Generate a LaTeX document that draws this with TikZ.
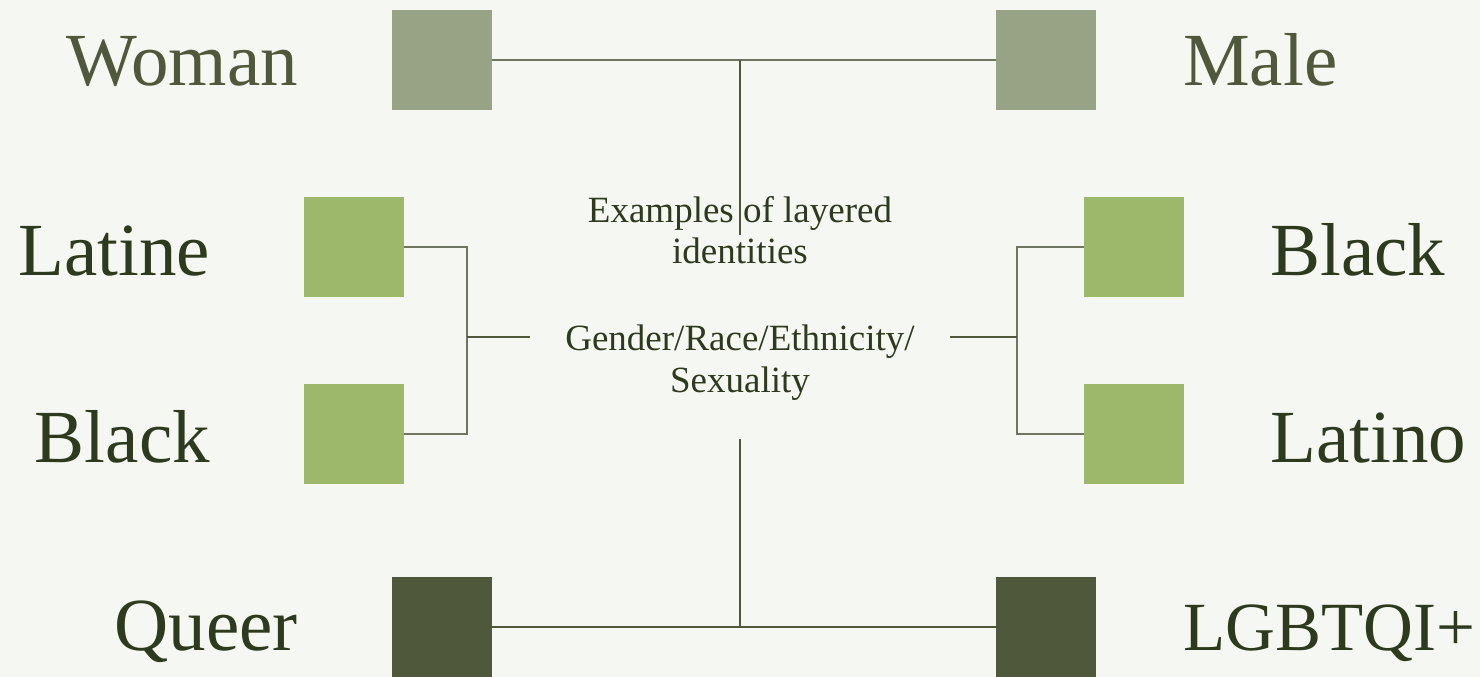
\documentclass[tikz,border=0pt]{standalone}
\usepackage{fontspec}
\setmainfont{Liberation Serif}
\definecolor{bg}{HTML}{F5F7F2}
\definecolor{boxgrey}{HTML}{98A385}
\definecolor{boxgreen}{HTML}{9DB86B}
\definecolor{boxdark}{HTML}{4F583A}
\definecolor{txtolive}{HTML}{4F583A}
\definecolor{txtdark}{HTML}{2D3A1E}
\definecolor{linegrey}{HTML}{6E7560}
\definecolor{linedark}{HTML}{4F583A}
\tikzset{
  sq/.style={draw=none, minimum width=100pt, minimum height=100pt, inner sep=0pt, outer sep=0pt},
  big/.style={font=\fontsize{75}{80}\selectfont, inner sep=0pt},
  mid/.style={font=\fontsize{37}{42}\selectfont, text=txtdark, align=center, inner sep=0pt},
  conn/.style={line width=1.3pt},
}
\begin{document}
\begin{tikzpicture}[x=1pt,y=-1pt]
\fill[bg] (0,0) rectangle (1480,677);
\useasboundingbox (0,0) rectangle (1480,677);
% boxes
\node[sq, fill=boxgrey] (woman) at (442,60) {};
\node[sq, fill=boxgrey] (male) at (1046,60) {};
\node[sq, fill=boxgreen] (latine) at (354,247) {};
\node[sq, fill=boxgreen] (blackl) at (354,434) {};
\node[sq, fill=boxgreen] (blackr) at (1134,247) {};
\node[sq, fill=boxgreen] (latino) at (1134,434) {};
\node[sq, fill=boxdark] (queer) at (442,627) {};
\node[sq, fill=boxdark] (lgbt) at (1046,627) {};
% labels
\node[big, text=txtolive, anchor=base east] (twoman) at (298,85) {Woman};
\node[big, text=txtolive, anchor=base west] (tmale) at (1183,85) {Male};
\node[big, text=txtdark, anchor=base east] (tlatine) at (210,275) {Latine};
\node[big, text=txtdark, anchor=base east] (tblackl) at (210,462) {Black};
\node[big, text=txtdark, anchor=base west] (tblackr) at (1270,275) {Black};
\node[big, text=txtdark, anchor=base west] (tlatino) at (1270,462) {Latino};
\node[big, text=txtdark, anchor=base east] (tqueer) at (298,650) {Queer};
\node[big, text=txtdark, anchor=base west, font=\fontsize{69}{74}\selectfont] (tlgbt) at (1183,650) {LGBTQI+};
% centre texts
\node[mid, anchor=base] (ex1) at (740,222) {Examples of layered};
\node[mid, anchor=base] (ex2) at (740,263) {identities};
\node[mid, anchor=base] (g1) at (740,350) {Gender/Race/Ethnicity/};
\node[mid, anchor=base] (g2) at (740,392) {Sexuality};
% junction coordinates
\coordinate (topmid) at (740,60);
\coordinate (topend) at (740,235);
\coordinate (lbr) at (467,337);
\coordinate (lend) at (530,337);
\coordinate (rbr) at (1017,337);
\coordinate (rend) at (950,337);
\coordinate (botmid) at (740,627);
\coordinate (botend) at (740,439);
% connectors
\draw[conn, linegrey] (woman.east) -- (male.west);
\draw[conn, linedark] (topmid) -- (topend);
\draw[conn, linegrey] (latine.east) -| (lbr) |- (blackl.east);
\draw[conn, linedark] (lbr) -- (lend);
\draw[conn, linegrey] (blackr.west) -| (rbr) |- (latino.west);
\draw[conn, linedark] (rbr) -- (rend);
\draw[conn, linedark] (queer.east) -- (lgbt.west);
\draw[conn, linedark] (botmid) -- (botend);
\end{tikzpicture}
\end{document}
